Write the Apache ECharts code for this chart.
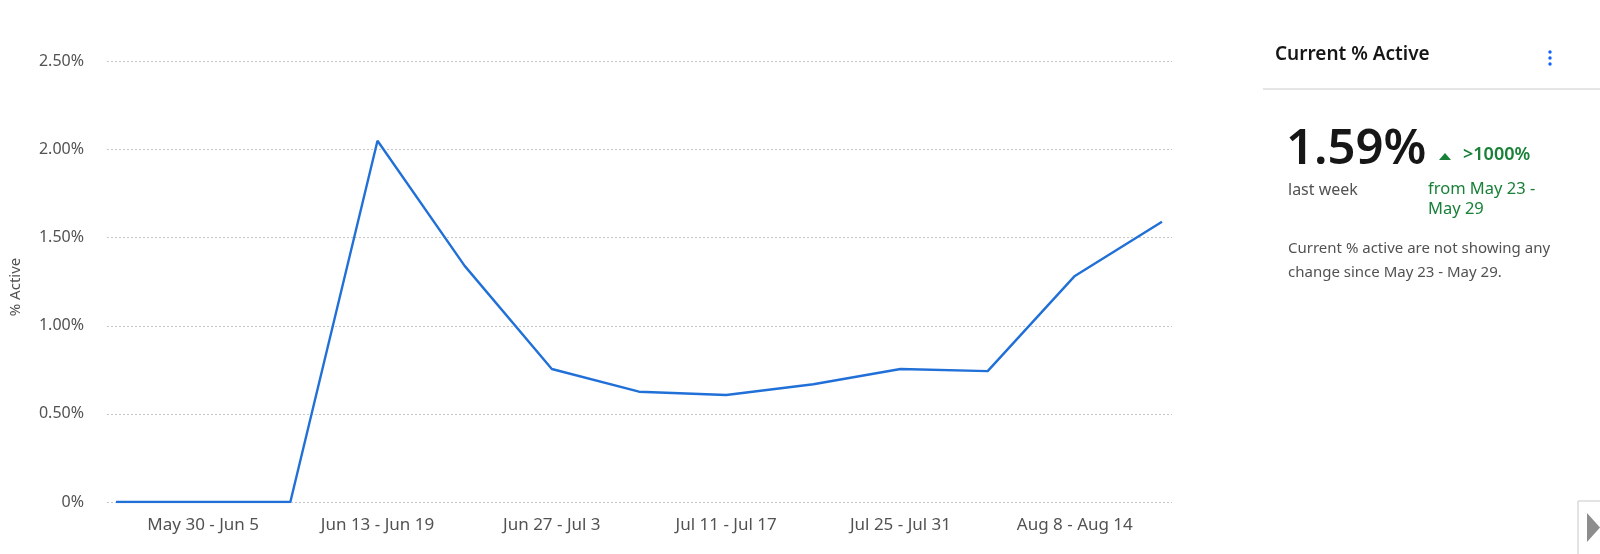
<!DOCTYPE html>
<html>
<head>
<meta charset="utf-8">
<script src="https://cdn.jsdelivr.net/npm/echarts@6/dist/echarts.min.js"></script>
<style>
html,body{margin:0;padding:0;background:#fff;}
#chart{width:1600px;height:554px;}
</style>
</head>
<body>
<div id="chart"></div>
<script>
const categories = ['May 23 - May 29','May 30 - Jun 5','Jun 6 - Jun 12','Jun 13 - Jun 19','Jun 20 - Jun 26','Jun 27 - Jul 3','Jul 4 - Jul 10','Jul 11 - Jul 17','Jul 18 - Jul 24','Jul 25 - Jul 31','Aug 1 - Aug 7','Aug 8 - Aug 14','Aug 15 - Aug 21'];
const activePct = [0, 0, 0, 2.05, 1.34, 0.755, 0.626, 0.607, 0.668, 0.755, 0.743, 1.283, 1.59];
const yTicks = [0, 0.5, 1.0, 1.5, 2.0, 2.5];
const yAxisTitle = '% Active';
const panelTitle = 'Current % Active';
const kpiValue = '1.59%';
const kpiLabel = 'last week';
const kpiChange = '>1000%';
const kpiFrom = ['from May 23 -', 'May 29'];
const kpiNote = ['Current % active are not showing any', 'change since May 23 - May 29.'];

const FONT = '"Noto Sans", sans-serif';
const chart = echarts.init(document.getElementById('chart'), null, {renderer: 'canvas'});
const fmt = v => v === 0 ? '0%' : v.toFixed(2) + '%';

chart.setOption({
  backgroundColor: '#fff',
  animation: false,
  textStyle: {fontFamily: FONT},
  grid: [
    {left: 107, right: 428, top: 61.5, bottom: 52},
    {left: 116, right: 438, top: 61.5, bottom: 52}
  ],
  xAxis: [
    {gridIndex: 0, type: 'value', min: 0, max: 1, show: false},
    {gridIndex: 1, type: 'category', data: categories, boundaryGap: false,
     axisLine: {show: false}, axisTick: {show: false},
     axisLabel: {interval: (i) => i % 2 === 1, color: '#525252', fontSize: 17, margin: 15, fontFamily: FONT}}
  ],
  yAxis: [
    {gridIndex: 0, type: 'value', min: yTicks[0], max: yTicks[yTicks.length - 1], interval: 0.5,
     axisLine: {show: false}, axisTick: {show: false},
     axisLabel: {formatter: fmt, color: '#525252', fontSize: 16, margin: 23, fontFamily: FONT},
     splitLine: {show: true, lineStyle: {color: '#c6c6c6', type: [2, 2], width: 1}}},
    {gridIndex: 1, type: 'value', min: yTicks[0], max: yTicks[yTicks.length - 1], show: false, splitLine: {show: false}}
  ],
  series: [{
    type: 'line', xAxisIndex: 1, yAxisIndex: 1, data: activePct,
    showSymbol: false, symbol: 'none',
    lineStyle: {color: '#2170d8', width: 2.4}
  }],
  graphic: [
    {type: 'text', x: 16, y: 287, rotation: Math.PI / 2,
     style: {text: yAxisTitle, font: '15px ' + FONT, fill: '#525252', align: 'center', verticalAlign: 'middle'}},
    {type: 'text', left: 1275, top: 45, style: {text: panelTitle, font: '600 19px ' + FONT, fill: '#161616'}},
    {type: 'circle', shape: {cx: 1550, cy: 52, r: 1.7}, style: {fill: '#0f62fe'}},
    {type: 'circle', shape: {cx: 1550, cy: 58, r: 1.7}, style: {fill: '#0f62fe'}},
    {type: 'circle', shape: {cx: 1550, cy: 64, r: 1.7}, style: {fill: '#0f62fe'}},
    {type: 'line', shape: {x1: 1263, y1: 89, x2: 1600, y2: 89}, style: {stroke: '#dcdcdc', lineWidth: 1.5}},
    {type: 'text', left: 1286, top: 126, style: {text: kpiValue, font: '600 49px ' + FONT, fill: '#161616'}},
    {type: 'text', left: 1288, top: 182, style: {text: kpiLabel, font: '16px ' + FONT, fill: '#525252'}},
    {type: 'polygon', shape: {points: [[1439, 160], [1451, 160], [1445, 153]]}, style: {fill: '#198038'}},
    {type: 'text', left: 1463, top: 146, style: {text: kpiChange, font: '600 18px ' + FONT, fill: '#198038'}},
    {type: 'text', left: 1428, top: 181, style: {text: kpiFrom[0], font: '16.5px ' + FONT, fill: '#198038'}},
    {type: 'text', left: 1428, top: 201, style: {text: kpiFrom[1], font: '16.5px ' + FONT, fill: '#198038'}},
    {type: 'text', left: 1288, top: 241, style: {text: kpiNote[0], font: '15px ' + FONT, fill: '#525252'}},
    {type: 'text', left: 1288, top: 265, style: {text: kpiNote[1], font: '15px ' + FONT, fill: '#525252'}},
    {type: 'rect', shape: {x: 1578, y: 501, width: 40, height: 70}, style: {fill: '#fff', stroke: '#c8c8c8', lineWidth: 1}},
    {type: 'polygon', shape: {points: [[1587, 513], [1587, 542], [1600, 527.5]]}, style: {fill: '#8d8d8d'}}
  ]
});
</script>
</body>
</html>
